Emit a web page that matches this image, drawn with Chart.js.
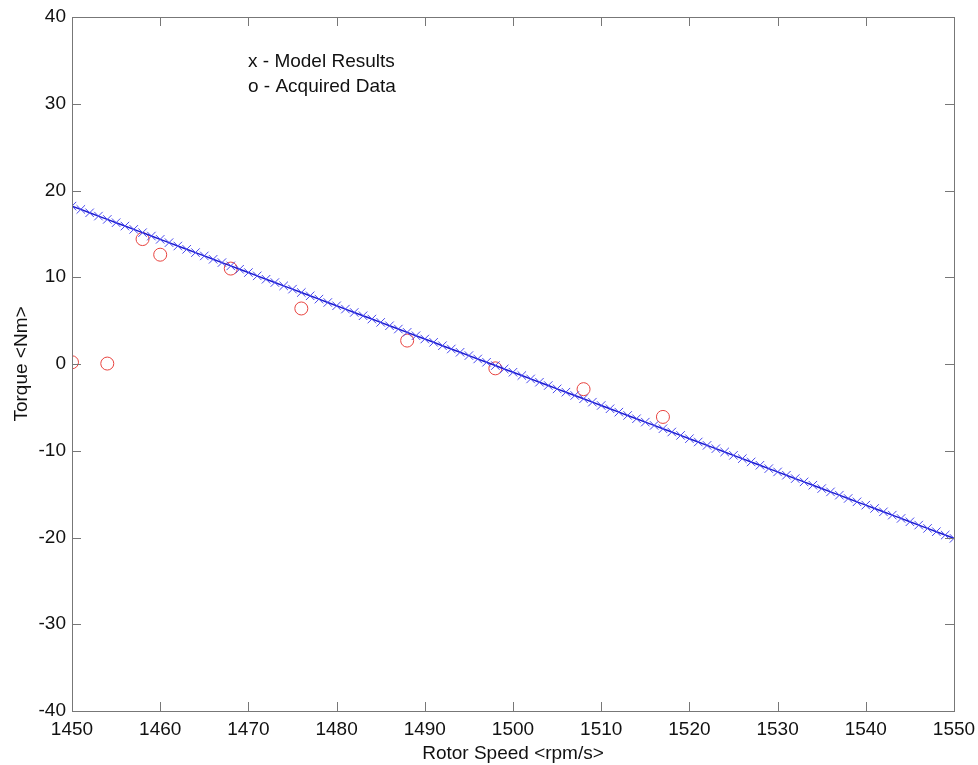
<!DOCTYPE html>
<html>
<head>
<meta charset="utf-8">
<script src="https://cdn.jsdelivr.net/npm/chart.js@4/dist/chart.umd.min.js"></script>
<style>
  html, body { margin: 0; padding: 0; background: #fff; }
  #wrap { width: 978px; height: 765px; }
</style>
</head>
<body>
<div id="wrap"><canvas id="c" width="978" height="765"></canvas></div>
<script>
// model results, one per rpm
var modelSpeed = [
  1450, 1451, 1452, 1453, 1454, 1455, 1456, 1457, 1458, 1459,
  1460, 1461, 1462, 1463, 1464, 1465, 1466, 1467, 1468, 1469,
  1470, 1471, 1472, 1473, 1474, 1475, 1476, 1477, 1478, 1479,
  1480, 1481, 1482, 1483, 1484, 1485, 1486, 1487, 1488, 1489,
  1490, 1491, 1492, 1493, 1494, 1495, 1496, 1497, 1498, 1499,
  1500, 1501, 1502, 1503, 1504, 1505, 1506, 1507, 1508, 1509,
  1510, 1511, 1512, 1513, 1514, 1515, 1516, 1517, 1518, 1519,
  1520, 1521, 1522, 1523, 1524, 1525, 1526, 1527, 1528, 1529,
  1530, 1531, 1532, 1533, 1534, 1535, 1536, 1537, 1538, 1539,
  1540, 1541, 1542, 1543, 1544, 1545, 1546, 1547, 1548, 1549,
  1550
];
var modelTorque = [
  18.20, 17.82, 17.43, 17.05, 16.67, 16.29, 15.90, 15.52, 15.14, 14.75,
  14.37, 13.99, 13.60, 13.22, 12.84, 12.46, 12.07, 11.69, 11.31, 10.92,
  10.54, 10.16, 9.77, 9.39, 9.01, 8.63, 8.24, 7.86, 7.48, 7.09,
  6.71, 6.33, 5.94, 5.56, 5.18, 4.80, 4.41, 4.03, 3.65, 3.26,
  2.88, 2.50, 2.11, 1.73, 1.35, 0.97, 0.58, 0.20, -0.18, -0.57,
  -0.95, -1.33, -1.72, -2.10, -2.48, -2.87, -3.25, -3.63, -4.01, -4.40,
  -4.78, -5.16, -5.55, -5.93, -6.31, -6.70, -7.08, -7.46, -7.84, -8.23,
  -8.61, -8.99, -9.38, -9.76, -10.14, -10.53, -10.91, -11.29, -11.67, -12.06,
  -12.44, -12.82, -13.21, -13.59, -13.97, -14.36, -14.74, -15.12, -15.50, -15.89,
  -16.27, -16.65, -17.04, -17.42, -17.80, -18.19, -18.57, -18.95, -19.33, -19.72,
  -20.10
];

// acquired data
var dataSpeed = [1450, 1454, 1458, 1460, 1468, 1476, 1488, 1498, 1508, 1517];
var dataTorque = [0.2, 0.05, 14.4, 12.6, 11.0, 6.4, 2.7, -0.5, -2.9, -6.1];

var xTicks = [1450, 1460, 1470, 1480, 1490, 1500, 1510, 1520, 1530, 1540, 1550];
var yTicks = [-40, -30, -20, -10, 0, 10, 20, 30, 40];

var legendLines = ['x - Model Results', 'o - Acquired Data'];

function toPoints(xs, ys) {
  return xs.map(function (x, i) { return { x: x, y: ys[i] }; });
}

// matlab style box with inward ticks on all four sides
var boxPlugin = {
  id: 'box',
  afterDatasetsDraw: function (chart) {
    var ctx = chart.ctx, a = chart.chartArea;
    var sx = chart.scales.x, sy = chart.scales.y;
    var len = 9;
    ctx.save();
    ctx.strokeStyle = '#777';
    ctx.lineWidth = 1;
    ctx.strokeRect(a.left + 0.5, a.top + 0.5, a.right - a.left, a.bottom - a.top);
    ctx.beginPath();
    xTicks.forEach(function (v) {
      var px = Math.round(sx.getPixelForValue(v)) + 0.5;
      ctx.moveTo(px, a.bottom); ctx.lineTo(px, a.bottom - len);
      ctx.moveTo(px, a.top); ctx.lineTo(px, a.top + len);
    });
    yTicks.forEach(function (v) {
      var py = Math.round(sy.getPixelForValue(v)) + 0.5;
      ctx.moveTo(a.left, py); ctx.lineTo(a.left + len, py);
      ctx.moveTo(a.right, py); ctx.lineTo(a.right - len, py);
    });
    ctx.stroke();

    ctx.fillStyle = '#111';
    ctx.font = '19px "Liberation Sans", Arial, sans-serif';
    ctx.textBaseline = 'middle';
    ctx.textAlign = 'left';
    legendLines.forEach(function (t, i) {
      ctx.fillText(t, a.left + 176, a.top + 45 + i * 25);
    });
    ctx.restore();
  }
};

var tickFont = { family: '"Liberation Sans", Arial, sans-serif', size: 19 };
var titleFont = { family: '"Liberation Sans", Arial, sans-serif', size: 19 };

new Chart(document.getElementById('c'), {
  type: 'scatter',
  data: {
    datasets: [{
      label: 'Model Results',
      data: toPoints(modelSpeed, modelTorque),
      showLine: true,
      borderColor: '#1a1ad0',
      borderWidth: 1.5,
      pointStyle: 'crossRot',
      pointRadius: 6,
      pointBorderColor: '#4848ee',
      pointBorderWidth: 1,
      backgroundColor: 'transparent'
    }, {
      label: 'Acquired Data',
      data: toPoints(dataSpeed, dataTorque),
      showLine: false,
      pointStyle: 'circle',
      pointRadius: 6.5,
      pointBorderColor: '#e8433f',
      pointBorderWidth: 1,
      pointBackgroundColor: 'transparent'
    }]
  },
  options: {
    responsive: false,
    animation: false,
    layout: { padding: { top: 17, right: 24, left: 0, bottom: 0 } },
    plugins: { legend: { display: false }, tooltip: { enabled: false } },
    scales: {
      x: {
        type: 'linear',
        min: 1450, max: 1550,
        afterBuildTicks: function (s) { s.ticks = xTicks.map(function (v) { return { value: v }; }); },
        afterFit: function (s) { s.height = 54; s.paddingRight = 0; s.paddingLeft = 0; },
        grid: { display: false, drawTicks: false },
        border: { display: false },
        ticks: {
          color: '#111', font: tickFont, padding: 7, maxRotation: 0, autoSkip: false,
          callback: function (v) { return String(v); }
        },
        title: { display: true, text: 'Rotor Speed <rpm/s>', color: '#111', font: titleFont, padding: { top: 2, bottom: 0 } }
      },
      y: {
        type: 'linear',
        min: -40, max: 40,
        afterBuildTicks: function (s) { s.ticks = yTicks.map(function (v) { return { value: v }; }); },
        afterFit: function (s) { s.width = 72; s.paddingTop = 0; s.paddingBottom = 0; },
        grid: { display: false, drawTicks: false },
        border: { display: false },
        ticks: {
          color: '#111', font: tickFont, padding: 6, autoSkip: false,
          callback: function (v) { return String(v); }
        },
        title: { display: true, text: 'Torque <Nm>', color: '#111', font: titleFont, padding: { top: 10, bottom: 0 } }
      }
    }
  },
  plugins: [boxPlugin]
});
</script>
</body>
</html>
